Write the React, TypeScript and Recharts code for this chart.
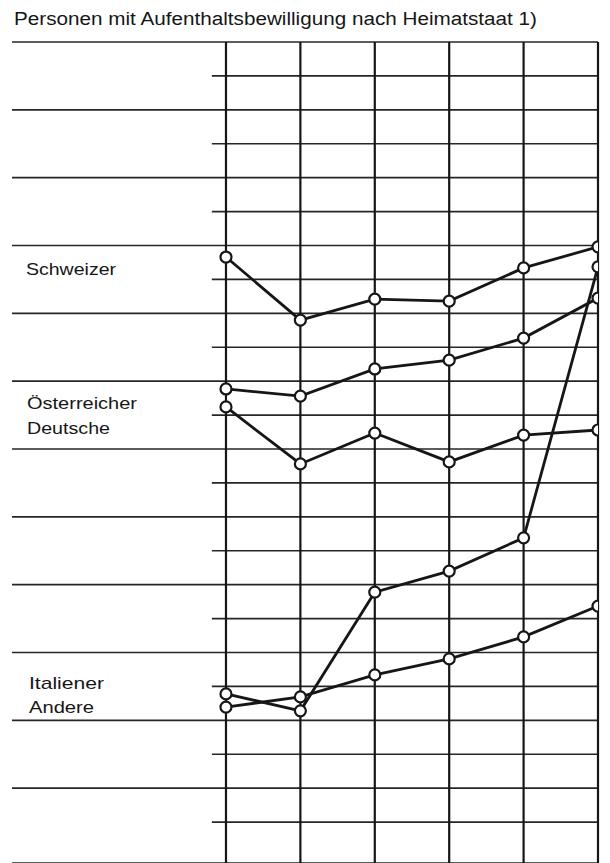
import { CartesianGrid, Line, LineChart, ReferenceLine, XAxis, YAxis } from "recharts";

// positions along the time axis (no year labels printed in the original)
const periods = [0, 1, 2, 3, 4, 5];

// values in grid units (0 = bottom rule, 24 = top rule)
const schweizer = [17.66, 15.8, 16.42, 16.36, 17.34, 17.96];
const oesterreicher = [13.77, 13.56, 14.36, 14.62, 15.27, 16.45];
const deutsche = [13.24, 11.56, 12.47, 11.62, 12.41, 12.56];
const italiener = [4.78, 4.28, 7.78, 8.4, 9.38, 17.37];
const andere = [4.39, 4.69, 5.34, 5.81, 6.46, 7.37];

const fullRules = [0, 2, 4, 6, 8, 10, 12, 14, 16, 18, 20, 22, 24];
const shortRules = [1, 3, 5, 7, 9, 11, 13, 15, 17, 19, 21, 23];

const title = "Personen mit Aufenthaltsbewilligung nach Heimatstaat 1)";
const seriesNames = ["Schweizer", "Österreicher", "Deutsche", "Italiener", "Andere"];

const X_MIN = -2.876;
const X_MAX = 5;
const Y_MIN = -0.206;
const Y_MAX = 24;
const SHORT_START = -0.19;

const font = "'Liberation Sans', Arial, Helvetica, sans-serif";
const ink = "#161616";
const rule = "#262626";

export default function App() {
  const data = periods.map((x, i) => ({
    x,
    schweizer: schweizer[i],
    oesterreicher: oesterreicher[i],
    deutsche: deutsche[i],
    italiener: italiener[i],
    andere: andere[i],
  }));

  const keys = ["schweizer", "oesterreicher", "deutsche", "italiener", "andere"];

  // label placement: [baseline y, x, rendered width]
  const labelPos: [number, number, number][] = [
    [275, 26, 90],
    [409, 27, 110],
    [434, 27, 83],
    [689, 29, 75],
    [713, 29, 65],
  ];

  return (
    <div style={{ position: "absolute", left: 0, top: 0, width: 610, height: 863, background: "#fff" }}>
      <LineChart width={610} height={863} data={data} margin={{ top: 42, right: 12, bottom: 0, left: 12 }}>
        <CartesianGrid stroke={rule} strokeWidth={1.7} vertical={false} />
        <XAxis type="number" dataKey="x" domain={[X_MIN, X_MAX]} ticks={periods} hide allowDataOverflow />
        <YAxis type="number" domain={[Y_MIN, Y_MAX]} ticks={fullRules} hide allowDataOverflow />
        {shortRules.map((k) => (
          <ReferenceLine
            key={"s" + k}
            segment={[
              { x: SHORT_START, y: k },
              { x: X_MAX, y: k },
            ]}
            stroke={rule}
            strokeWidth={1.7}
          />
        ))}
        {periods.map((p) => (
          <ReferenceLine key={"v" + p} x={p} stroke={ink} strokeWidth={2.2} />
        ))}
        {keys.map((k) => (
          <Line
            key={k}
            type="linear"
            dataKey={k}
            stroke={ink}
            strokeWidth={2.8}
            dot={{ r: 5.5, fill: "#fff", stroke: ink, strokeWidth: 2.2 }}
            isAnimationActive={false}
          />
        ))}
      </LineChart>
      <svg
        width={610}
        height={863}
        style={{ position: "absolute", left: 0, top: 0, pointerEvents: "none" }}
        fontFamily={font}
        fill={ink}
      >
        <text x={14} y={25} fontSize={18} textLength={523} lengthAdjust="spacingAndGlyphs">
          {title}
        </text>
        {seriesNames.map((name, i) => (
          <text
            key={name}
            x={labelPos[i][1]}
            y={labelPos[i][0]}
            fontSize={17}
            textLength={labelPos[i][2]}
            lengthAdjust="spacingAndGlyphs"
          >
            {name}
          </text>
        ))}
      </svg>
    </div>
  );
}
